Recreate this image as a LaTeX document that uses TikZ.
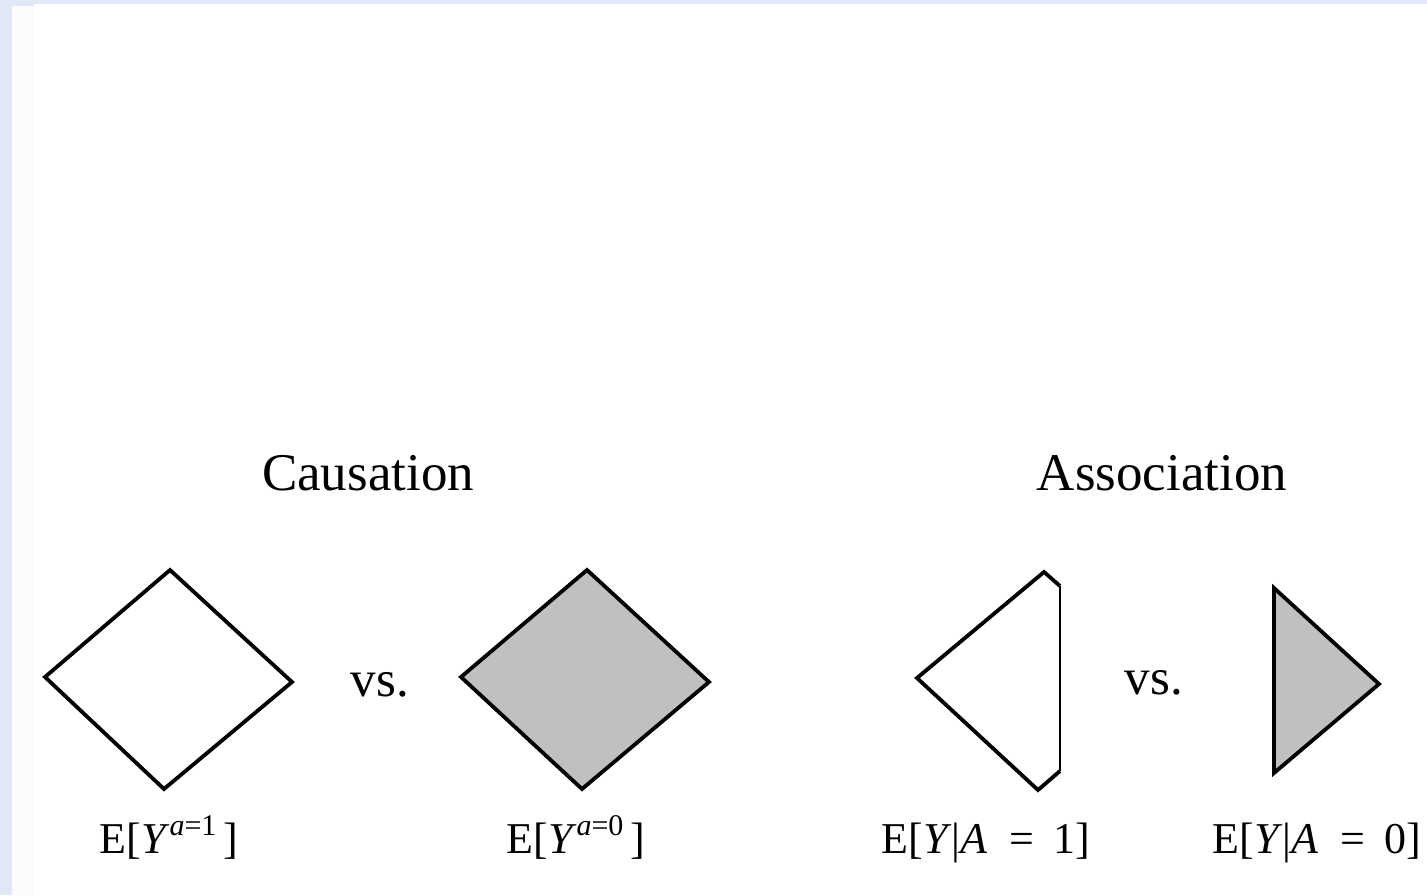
\documentclass[tikz,border=0pt]{standalone}
\usepackage{fontspec}
\setmainfont{Liberation Serif}
\definecolor{bluebg}{HTML}{DFE8F4}
\definecolor{offwhite}{HTML}{FBFBFB}
\definecolor{shadegray}{HTML}{C0C0C0}
\newcommand\supx[1]{\raisebox{0.40em}{\fontsize{30}{30}\selectfont #1}}
\tikzset{
  shapeline/.style={draw=black, line width=3.8pt, line join=miter},
  thinline/.style={draw=black, line width=2.2pt},
  titletext/.style={font=\fontsize{53}{60}\selectfont, anchor=base, inner sep=0pt},
  vstext/.style={font=\fontsize{51}{60}\selectfont, anchor=base, inner sep=0pt},
  eqtext/.style={font=\fontsize{44}{50}\selectfont, anchor=base, inner sep=0pt},
}
\begin{document}
\begin{tikzpicture}[x=1pt,y=-1pt]
\useasboundingbox (0,0) rectangle (1427,895);
% background
\fill[white] (0,0) rectangle (1427,895);
\fill[offwhite] (12,6) rectangle (34,895);
\fill[bluebg] (0,0) rectangle (12,895);
\fill[bluebg] (0,0) rectangle (1427,4);
\fill[bluebg] (12,0) rectangle (34,6);

% titles
\node[titletext] (causation) at (368,490) {Causation};
\node[titletext] (association) at (1162,490) {Association};

% left diamond (white)
\coordinate (d1t) at (170,570);
\coordinate (d1l) at (45,677);
\coordinate (d1r) at (292,682);
\coordinate (d1b) at (164,789);
\filldraw[shapeline, fill=white] (d1t) -- (d1r) -- (d1b) -- (d1l) -- cycle;

% right diamond (gray)
\coordinate (d2t) at (587,570);
\coordinate (d2l) at (461,677);
\coordinate (d2r) at (709,682);
\coordinate (d2b) at (582,789);
\filldraw[shapeline, fill=shadegray] (d2t) -- (d2r) -- (d2b) -- (d2l) -- cycle;

% truncated diamond (white)
\coordinate (d3l) at (917,678);
\coordinate (d3t) at (1044,572);
\coordinate (d3tr) at (1060,586);
\coordinate (d3br) at (1060,771);
\coordinate (d3b) at (1038,790);
\draw[thinline] (d3tr) -- (d3br);
\draw[shapeline] (d3tr) -- (d3t) -- (d3l) -- (d3b) -- (d3br);

% gray triangle
\coordinate (t1) at (1274,588);
\coordinate (t2) at (1379,684);
\coordinate (t3) at (1274,773);
\filldraw[shapeline, fill=shadegray] (t1) -- (t2) -- (t3) -- cycle;

% vs.
\node[vstext] (vsL) at (380,696) {vs.};
\node[vstext] (vsR) at (1154,694) {vs.};

% labels
\node[eqtext] (eqa1) at (169,853) {E[\textit{Y}\supx{\textit{a}=1}\,]};
\node[eqtext] (eqa0) at (576,853) {E[\textit{Y}\supx{\textit{a}=0}\,]};
\node[eqtext] (eqA1) at (986,853) {E[\textit{Y}|\textit{A}\hspace{0.5em}=\hspace{0.45em}1]};
\node[eqtext] (eqA0) at (1317,853) {E[\textit{Y}|\textit{A}\hspace{0.5em}=\hspace{0.45em}0]};
\end{tikzpicture}
\end{document}
